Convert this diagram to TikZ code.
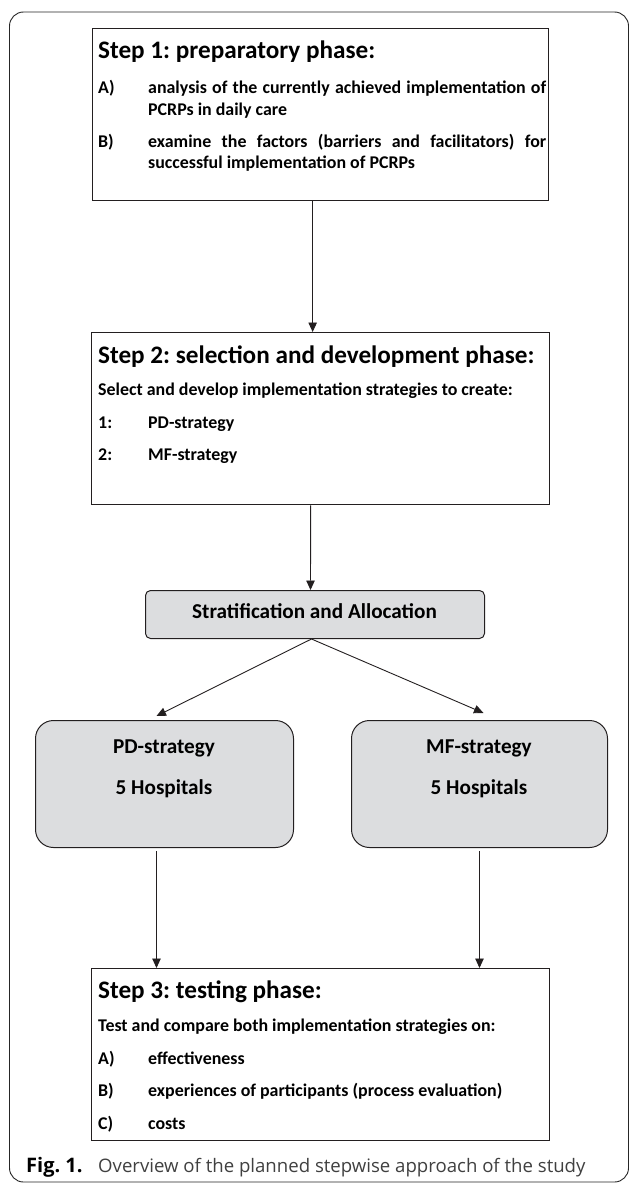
\documentclass[tikz,border=0pt]{standalone}
\usepackage{fontspec}
\setmainfont{Carlito}
\newfontfamily\capfont{Open Sans}
\usetikzlibrary{arrows.meta}
\frenchspacing

\definecolor{boxgrey}{RGB}{220,221,223}
\definecolor{inkdark}{RGB}{35,31,32}

\tikzset{
  stepbox/.style={draw=inkdark, line width=1.3pt, inner sep=0pt, anchor=north west},
  greybox/.style={draw=inkdark, line width=1pt, fill=boxgrey, inner sep=0pt,
    anchor=north west, rounded corners=#1},
  headtext/.style={anchor=base west, inner sep=0pt, font=\fontsize{25.2}{28}\selectfont\bfseries},
  itemtext/.style={anchor=base west, inner sep=0pt, font=\fontsize{17.9}{21}\selectfont\bfseries},
  boxtext/.style={anchor=base, inner sep=0pt, font=\fontsize{21.2}{25}\selectfont\bfseries},
  flow/.style={-{Triangle[length=9.5pt,width=8.5pt]}, line width=0.9pt, inkdark},
}

\begin{document}
\begin{tikzpicture}[x=1pt,y=-1pt]
  \useasboundingbox (0,0) rectangle (629,1183);
  % outer frame
  \draw[black!85, line width=0.9pt, rounded corners=14pt] (9.5,12) rectangle (628.5,1182);

  % step 1
  \node[stepbox, minimum width=456pt, minimum height=172pt] (step1) at (92,28) {};
  \node[headtext] (s1head) at (98,58) {Step 1: preparatory phase:};
  \node[itemtext] (s1a) at (98,93) {A)};
  \node[itemtext] (s1atext) at (148,93) {\makebox[398pt][s]{analysis of the currently achieved implementation of}};
  \node[itemtext] (s1atext2) at (148,115) {PCRPs in daily care};
  \node[itemtext] (s1b) at (98,147) {B)};
  \node[itemtext] (s1btext) at (148,147) {\makebox[398pt][s]{examine the factors (barriers and facilitators) for}};
  \node[itemtext] (s1btext2) at (148,168) {successful implementation of PCRPs};

  % step 2
  \node[stepbox, minimum width=458pt, minimum height=172pt] (step2) at (91,332) {};
  \node[headtext] (s2head) at (98,363) {Step 2: selection and development phase:};
  \node[itemtext] (s2intro) at (98,395) {Select and develop implementation strategies to create:};
  \node[itemtext] (s2one) at (98,428) {1:};
  \node[itemtext] (s2onetext) at (148,428) {PD-strategy};
  \node[itemtext] (s2two) at (98,460) {2:};
  \node[itemtext] (s2twotext) at (148,460) {MF-strategy};

  % allocation
  \node[greybox=5pt, minimum width=339pt, minimum height=48pt] (strat) at (145,590) {};
  \node[boxtext] (strattext) at (314.5,618) {Stratification and Allocation};

  \node[greybox=18pt, minimum width=258pt, minimum height=127pt] (pd) at (35,720) {};
  \node[boxtext] (pdname) at (164,753) {PD-strategy};
  \node[boxtext] (pdcount) at (164,794) {5 Hospitals};

  \node[greybox=18pt, minimum width=256pt, minimum height=127pt] (mf) at (351,720) {};
  \node[boxtext] (mfname) at (479,753) {MF-strategy};
  \node[boxtext] (mfcount) at (479,794) {5 Hospitals};

  % step 3
  \node[stepbox, minimum width=458pt, minimum height=172pt] (step3) at (91,968) {};
  \node[headtext] (s3head) at (98,998) {Step 3: testing phase:};
  \node[itemtext] (s3intro) at (98,1031) {Test and compare both implementation strategies on:};
  \node[itemtext] (s3a) at (98,1064) {A)};
  \node[itemtext] (s3atext) at (148,1064) {effectiveness};
  \node[itemtext] (s3b) at (98,1096) {B)};
  \node[itemtext] (s3btext) at (148,1096) {experiences of participants (process evaluation)};
  \node[itemtext] (s3c) at (98,1129) {C)};
  \node[itemtext] (s3ctext) at (148,1129) {costs};

  % arrows
  \draw[flow] ([xshift=-8pt]step1.south) -- ([xshift=-8pt]step2.north);
  \draw[flow] ([xshift=-10pt]step2.south) -- ([xshift=-4.5pt]strat.north);
  \draw[flow] ([xshift=-3.5pt]strat.south) -- ([xshift=-8pt,yshift=4pt]pd.north);
  \draw[flow] ([xshift=-3.5pt]strat.south) -- ([xshift=4pt,yshift=7pt]mf.north);
  \draw[flow] ([xshift=-8pt,yshift=-3pt]pd.south) -- ([xshift=-8pt]pd.south |- step3.north);
  \draw[flow] ([yshift=-3pt]mf.south) -- (mf.south |- step3.north);

  % caption
  \node[anchor=base west, inner sep=0pt, font=\capfont\fontsize{20}{24}\selectfont\bfseries] (figlabel) at (26,1172) {Fig. 1.};
  \node[anchor=base west, inner sep=0pt, text=black!75, font=\capfont\fontsize{18.6}{22}\selectfont] (figcaption) at (98,1172) {Overview of the planned stepwise approach of the study};
\end{tikzpicture}
\end{document}
